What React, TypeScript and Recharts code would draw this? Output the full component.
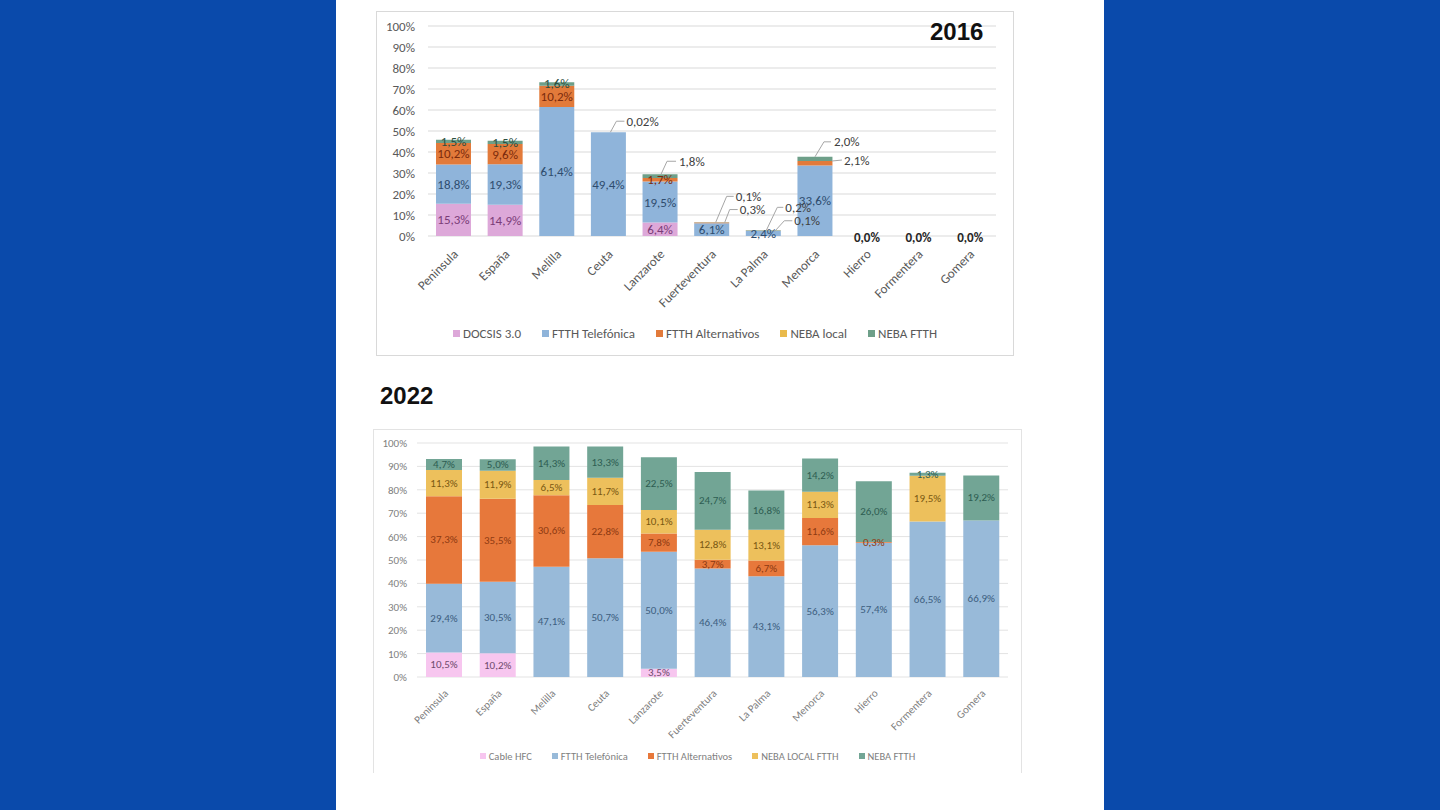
import React from 'react';
import { BarChart, Bar, XAxis, YAxis, CartesianGrid, Legend, LabelList } from 'recharts';

// ---------- shared ----------
const categories = ['Peninsula', 'España', 'Melilla', 'Ceuta', 'Lanzarote', 'Fuerteventura', 'La Palma', 'Menorca', 'Hierro', 'Formentera', 'Gomera'];
const yTicks = [0, 10, 20, 30, 40, 50, 60, 70, 80, 90, 100];

// ---------- 2016 ----------
const title2016 = '2016';
const docsis2016 = [15.3, 14.9, 0, 0, 6.4, 0, 0, 0, 0, 0, 0];
const ftthTel2016 = [18.8, 19.3, 61.4, 49.4, 19.5, 6.1, 2.4, 33.6, 0, 0, 0];
const ftthAlt2016 = [10.2, 9.6, 10.2, 0.02, 1.7, 0.3, 0.1, 2.1, 0, 0, 0];
const nebaLocal2016 = [0, 0, 0, 0, 0, 0, 0, 0, 0, 0, 0];
const nebaFtth2016 = [1.5, 1.5, 1.6, 0, 1.8, 0.1, 0.2, 2.0, 0, 0, 0];
const series2016Names = ['DOCSIS 3.0', 'FTTH Telefónica', 'FTTH Alternativos', 'NEBA local', 'NEBA FTTH'];

// ---------- 2022 ----------
const title2022 = '2022';
const cable2022 = [10.5, 10.2, 0, 0, 3.5, 0, 0, 0, 0, 0, 0];
const ftthTel2022 = [29.4, 30.5, 47.1, 50.7, 50.0, 46.4, 43.1, 56.3, 57.4, 66.5, 66.9];
const ftthAlt2022 = [37.3, 35.5, 30.6, 22.8, 7.8, 3.7, 6.7, 11.6, 0.3, 0, 0];
const nebaLocal2022 = [11.3, 11.9, 6.5, 11.7, 10.1, 12.8, 13.1, 11.3, 0, 19.5, 0];
const nebaFtth2022 = [4.7, 5.0, 14.3, 13.3, 22.5, 24.7, 16.8, 14.2, 26.0, 1.3, 19.2];
const series2022Names = ['Cable HFC', 'FTTH Telefónica', 'FTTH Alternativos', 'NEBA LOCAL FTTH', 'NEBA FTTH'];

const KEYS = ['s1', 's2', 's3', 's4', 's5'];

const rows2016 = categories.map((cat, i) => ({
  cat, s1: docsis2016[i], s2: ftthTel2016[i], s3: ftthAlt2016[i], s4: nebaLocal2016[i], s5: nebaFtth2016[i],
}));
const rows2022 = categories.map((cat, i) => ({
  cat, s1: cable2022[i], s2: ftthTel2022[i], s3: ftthAlt2022[i], s4: nebaLocal2022[i], s5: nebaFtth2022[i],
}));
const totalOf = (rows: any[], cat: string) => {
  const r = rows.find((x) => x.cat === cat);
  return r ? KEYS.reduce((s, k) => s + r[k], 0) : 0;
};

// ---------- styling ----------
const FONT = "Carlito, Lato, 'Liberation Sans Narrow', 'Open Sans', sans-serif";
const colors2016 = ['#DDA8D9', '#8FB4DA', '#E27A3A', '#E9BA4C', '#6E9F89'];
const labelColors2016 = ['#7A3C78', '#2E4C6E', '#7A2A0C', '#6E5010', '#2C4E40'];
const colors2022 = ['#F7C6EF', '#98BAD9', '#E7783B', '#EDC05C', '#72A595'];
const labelColors2022 = ['#6E4A6C', '#3D5E80', '#8E3A12', '#7A5812', '#2E5D52'];

// callout label placements (relative offsets in px from segment top-centre)
const callouts2016 = [
  { cat: 'Ceuta', key: 's3', pts: [[2, 0], [8, -11], [16, -11]], tx: 18, ty: -11 },
  { cat: 'Lanzarote', key: 's5', pts: [[1, 0], [7, -13], [16, -13]], tx: 19, ty: -13 },
  { cat: 'Fuerteventura', key: 's5', pts: [[4, 0], [15, -26], [22, -26]], tx: 24, ty: -26 },
  { cat: 'Fuerteventura', key: 's3', pts: [[13, 0], [18, -13], [26, -13]], tx: 28, ty: -13 },
  { cat: 'La Palma', key: 's5', pts: [[3, 0], [14, -23], [20, -23]], tx: 22, ty: -23 },
  { cat: 'La Palma', key: 's3', pts: [[11, 1], [21, -10], [29, -10]], tx: 31, ty: -10 },
  { cat: 'Menorca', key: 's5', pts: [[0, 0], [9, -15], [16, -15]], tx: 19, ty: -15 },
  { cat: 'Menorca', key: 's3', pts: [[17, 0], [27, -1]], tx: 29, ty: -1 },
];

const fmt = (v: number) => (v >= 0.1 ? v.toFixed(1) : v.toFixed(2)).replace('.', ',') + '%';

const makeLabel = (key: string, callouts: any[], color: string, fontSize: number) => (props: any) => {
  const vb = props.viewBox || {};
  const x = props.x ?? vb.x;
  const y = props.y ?? vb.y;
  const width = props.width ?? vb.width;
  const height = props.height ?? vb.height;
  const parts = String(props.value).split('|');
  const cat = parts[0];
  const value = Number(parts[1]);
  if (x == null || y == null || !value) return null;
  const cx = x + width / 2;
  const co = callouts.find((c) => c.cat === cat && c.key === key);
  if (co) {
    const pts = co.pts.map((p: number[]) => `${cx + p[0]},${y + p[1]}`).join(' ');
    return (
      <g>
        <polyline points={pts} fill="none" stroke="#A6A6A6" strokeWidth={1} />
        <text x={cx + co.tx} y={y + co.ty} dominantBaseline="central" fontSize={fontSize} fill="#404040" fontFamily={FONT}>{fmt(value)}</text>
      </g>
    );
  }
  return (
    <text x={cx} y={y + height / 2} textAnchor="middle" dominantBaseline="central" fontSize={fontSize} fill={color} fontFamily={FONT}>{fmt(value)}</text>
  );
};

const AngledTick = (p: any) => {
  const { x, y, payload, fs, color, dx, dy, rows, zeroLabel } = p;
  const ax = x + dx;
  const ay = y + dy;
  const showZero = zeroLabel && totalOf(rows, payload.value) === 0;
  return (
    <g>
      {showZero && (
        <text x={x} y={y - 7} textAnchor="middle" dominantBaseline="central" fontSize={13} fontWeight="bold" fill="#262626" fontFamily={FONT}>0,0%</text>
      )}
      <text x={ax} y={ay} transform={`rotate(-45 ${ax} ${ay})`} textAnchor="end" fontSize={fs} fill={color} fontFamily={FONT}>{payload.value}</text>
    </g>
  );
};

const makeLegend = (names: string[], cols: string[], fontSize: number, color: string, marker: number, gap: number) => () => (
  <div style={{ display: 'flex', justifyContent: 'center', alignItems: 'center', height: 20, fontFamily: FONT, fontSize, color, whiteSpace: 'nowrap' }}>
    {names.map((n, i) => (
      <span key={n} style={{ display: 'flex', alignItems: 'center', marginRight: i < names.length - 1 ? gap : 0 }}>
        <span style={{ display: 'inline-block', width: marker, height: marker, background: cols[i], marginRight: 3 }} />
        {n}
      </span>
    ))}
  </div>
);

const pctTick = (v: number) => `${v}%`;

export default function App() {
  return (
    <div style={{ position: 'absolute', left: 0, top: 0, width: 1440, height: 810, background: '#0A4AAB', overflow: 'hidden' }}>
      <div style={{ position: 'absolute', left: 336, top: 0, width: 768, height: 810, background: '#FFFFFF' }} />

      {/* 2016 chart */}
      <div style={{ position: 'absolute', left: 376, top: 11, width: 638, height: 345, border: '1px solid #D9D9D9', boxSizing: 'border-box' }} />
      <div style={{ position: 'absolute', left: 376, top: 11 }}>
        <BarChart width={638} height={345} data={rows2016} margin={{ top: 15, right: 18, bottom: 13, left: 0 }} barSize={35}>
          <CartesianGrid vertical={false} stroke="#D9D9D9" />
          <XAxis dataKey="cat" axisLine={false} tickLine={false} interval={0} height={87}
            tick={(p: any) => <AngledTick {...p} fs={13} color="#595959" dx={5} dy={11} rows={rows2016} zeroLabel />} />
          <YAxis domain={[0, 100]} ticks={yTicks} interval={0} tickFormatter={pctTick} axisLine={false} tickLine={false} width={52}
            tickMargin={7} tick={{ fontSize: 13, fill: '#595959', fontFamily: FONT }} />
          <Legend verticalAlign="bottom" wrapperStyle={{ left: 0, width: 638 }} content={makeLegend(series2016Names, colors2016, 13, '#595959', 7, 21)} />
          {KEYS.map((k, i) => (
            <Bar key={k} dataKey={k} name={series2016Names[i]} stackId="a" fill={colors2016[i]} isAnimationActive={false}>
              <LabelList dataKey={(r: any) => `${r.cat}|${r[k]}`} content={makeLabel(k, callouts2016, labelColors2016[i], 13)} />
            </Bar>
          ))}
        </BarChart>
      </div>
      <div style={{ position: 'absolute', left: 930, top: 17, fontFamily: "'Liberation Sans', Arial, sans-serif", fontWeight: 'bold', fontSize: 24, color: '#111', lineHeight: '30px' }}>{title2016}</div>

      {/* 2022 chart */}
      <div style={{ position: 'absolute', left: 380, top: 381, fontFamily: "'Liberation Sans', Arial, sans-serif", fontWeight: 'bold', fontSize: 24, color: '#111', lineHeight: '30px' }}>{title2022}</div>
      <div style={{ position: 'absolute', left: 373, top: 429, width: 649, height: 344, borderLeft: '1px solid #E3E3E3', borderTop: '1px solid #E3E3E3', borderRight: '1px solid #E3E3E3', boxSizing: 'border-box' }} />
      <div style={{ position: 'absolute', left: 373, top: 429 }}>
        <BarChart width={649} height={344} data={rows2022} margin={{ top: 14, right: 14, bottom: 7, left: 0 }} barSize={36}>
          <CartesianGrid vertical={false} stroke="#E3E3E3" />
          <XAxis dataKey="cat" axisLine={false} tickLine={false} interval={0} height={69}
            tick={(p: any) => <AngledTick {...p} fs={11} color="#7F7F7F" dx={5} dy={9} rows={rows2022} zeroLabel={false} />} />
          <YAxis domain={[0, 100]} ticks={yTicks} interval={0} tickFormatter={pctTick} axisLine={false} tickLine={false} width={44}
            tickMargin={4} tick={{ fontSize: 11, fill: '#7F7F7F', fontFamily: FONT }} />
          <Legend verticalAlign="bottom" wrapperStyle={{ left: 0, width: 649 }} content={makeLegend(series2022Names, colors2022, 10.5, '#7F7F7F', 6, 20)} />
          {KEYS.map((k, i) => (
            <Bar key={k} dataKey={k} name={series2022Names[i]} stackId="a" fill={colors2022[i]} isAnimationActive={false}>
              <LabelList dataKey={(r: any) => `${r.cat}|${r[k]}`} content={makeLabel(k, [], labelColors2022[i], 11)} />
            </Bar>
          ))}
        </BarChart>
      </div>
    </div>
  );
}
